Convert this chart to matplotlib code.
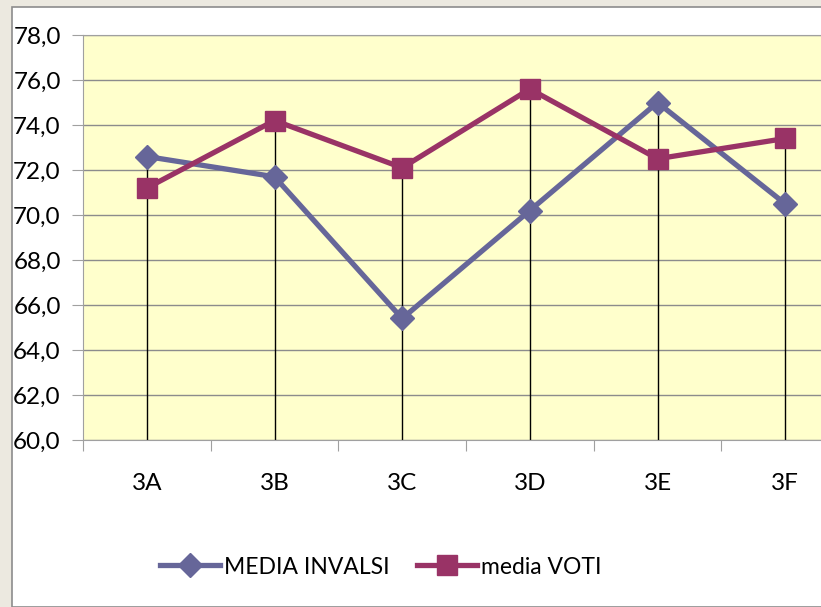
import numpy as np
import matplotlib.pyplot as plt
from matplotlib.patches import Rectangle

classi = ["3A", "3B", "3C", "3D", "3E", "3F"]
media_invalsi = [72.6, 71.7, 65.4, 70.2, 75.0, 70.5]
media_voti = [71.2, 74.2, 72.1, 75.6, 72.5, 73.4]
y_ticks = np.arange(60, 79, 2)

plt.rcParams['font.family'] = ['Lato', 'DejaVu Sans']

fig = plt.figure(figsize=(8.21, 6.07), dpi=100, facecolor="#ECE9E0")
# white chart area with thin gray border
fig.patches.append(Rectangle((12/821, 0), 1, 1 - 7/607, transform=fig.transFigure,
                             facecolor="white", edgecolor="#8C8C8C", lw=1.2, zorder=-1))

ax = fig.add_axes([83/821, 167/607, 766/821, 405/607])
ax.set_facecolor("#FFFFCC")
x = np.arange(len(classi))

ax.set_xlim(-0.5, len(classi) - 0.5)
ax.set_ylim(60, 78)
ax.set_yticks(y_ticks)
ax.set_yticklabels([f"{v:.1f}".replace(".", ",") for v in y_ticks], fontsize=17.5)
ax.yaxis.grid(True, color="#8C8C8C", lw=1)
ax.set_axisbelow(True)

# category ticks sit between categories, labels at centres
ax.set_xticks(np.arange(-0.5, len(classi), 1))
ax.set_xticklabels([])
ax.set_xticks(x, minor=True)
ax.set_xticklabels(classi, minor=True, fontsize=17.5)
ax.tick_params(axis="x", which="major", length=8, color="#A0A0A0", direction="out")
ax.tick_params(axis="x", which="minor", length=0, pad=24)
ax.tick_params(axis="y", length=8, color="#A0A0A0", pad=8)

for s in ["left", "bottom", "top"]:
    ax.spines[s].set_color("#A0A0A0")
ax.spines["right"].set_visible(False)

# drop lines
tops = np.maximum(media_invalsi, media_voti)
ax.vlines(x, 60, tops, color="black", lw=1, zorder=2)

ax.plot(x, media_invalsi, color="#666699", lw=3.8, marker="D", markersize=12,
        label="MEDIA INVALSI", zorder=3)
ax.plot(x, media_voti, color="#993366", lw=3.8, marker="s", markersize=14,
        label="media VOTI", zorder=4)

fig.legend(loc="center", bbox_to_anchor=(381/821, 40/607), ncol=2, frameon=False,
           fontsize=16.5, handlelength=2.6, handletextpad=0.2, columnspacing=1.2)

fig.savefig("out.png", dpi=100, facecolor=fig.get_facecolor())
